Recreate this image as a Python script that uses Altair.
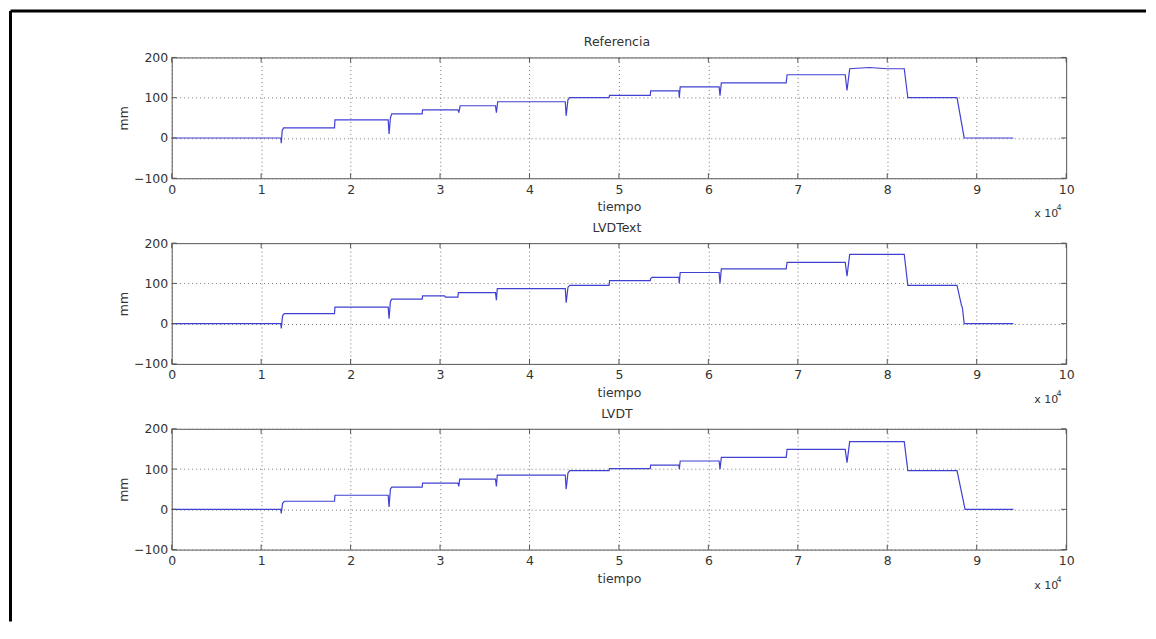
import altair as alt
import pandas as pd

# ---- data (tiempo, mm) ----
ref_t = [0, 12200, 12250, 12350, 12500, 18200, 18250, 24200, 24300, 24450, 24600,
         28000, 28050, 32000, 32100, 32250, 36200, 36300, 36450, 44000, 44100, 44300,
         44500, 48900, 48950, 53500, 53550, 56700, 56750, 56850, 61200, 61300, 61450,
         68700, 68800, 75300, 75500, 75800, 78000, 80000, 81900, 82300, 87800, 88600, 94100]
ref_v = [0, 0, -13, 18, 25, 25, 45, 45, 10, 50, 60,
         60, 70, 70, 63, 80, 80, 63, 90, 90, 55, 95,
         100, 100, 106, 106, 117, 117, 100, 127, 127, 105, 137,
         137, 157, 157, 118, 172, 175, 172, 172, 100, 100, 0, 0]

ext_t = [0, 12200, 12250, 12400, 12600, 18200, 18250, 24200, 24300, 24450, 24600,
         28000, 28050, 30500, 30600, 32000, 32050, 36200, 36300, 36400, 44000, 44100,
         44300, 44500, 48900, 48950, 53500, 53550, 53700, 56700, 56750, 56850, 61200,
         61300, 61450, 68700, 68800, 75300, 75500, 75800, 81900, 82300, 87800, 88300,
         88400, 88600, 94100]
ext_v = [0, 0, -12, 20, 25, 25, 41, 41, 12, 55, 61,
         61, 69, 69, 66, 66, 77, 77, 58, 87, 87, 52,
         90, 95, 95, 107, 107, 112, 115, 115, 100, 127, 127,
         100, 136, 136, 152, 152, 118, 172, 172, 95, 95, 45,
         40, 0, 0]

lvdt_t = [0, 12200, 12250, 12400, 12600, 18200, 18250, 24200, 24300, 24450, 24600,
          28000, 28050, 32000, 32100, 32200, 36200, 36300, 36400, 44000, 44100, 44300,
          44500, 48900, 48950, 53500, 53550, 56700, 56750, 56850, 61200, 61300, 61450,
          68700, 68800, 75300, 75500, 75800, 81900, 82300, 87800, 88700, 94100]
lvdt_v = [0, 0, -10, 15, 20, 20, 35, 35, 6, 50, 55,
          55, 65, 65, 57, 75, 75, 57, 85, 85, 50, 90,
          96, 96, 101, 101, 110, 110, 100, 120, 120, 100, 129,
          129, 149, 149, 116, 168, 168, 96, 96, 0, 0]

panel_titles = ["Referencia", "LVDText", "LVDT"]
x_ticks = [0, 10000, 20000, 30000, 40000, 50000, 60000, 70000, 80000, 90000, 100000]
y_ticks = [-100, 0, 100, 200]

W, H = 896, 121
FONT = "DejaVu Sans"
FS = 12.5
TXT = "#333333"
LINE = "#4040d2"
GRID = "#777777"

one = pd.DataFrame({"a": [0]})


def panel(title, t, v, first=False):
    df = pd.DataFrame({"t": t, "v": v, "i": list(range(len(t)))})
    xs = alt.Scale(domain=[0, 100000], nice=False, zero=False)
    ys = alt.Scale(domain=[-100, 200], nice=False)
    x = alt.X("t:Q", scale=xs,
              axis=alt.Axis(values=x_ticks, labelExpr="datum.value / 10000", title="tiempo",
                            grid=True, gridDash=[1, 3], gridColor=GRID, gridOpacity=1,
                            domain=False, ticks=False, labelPadding=5, titlePadding=5,
                            labelFlush=False, labelOverlap=False))
    y = alt.Y("v:Q", scale=ys,
              axis=alt.Axis(values=y_ticks, title="mm", grid=True, gridDash=[1, 3],
                            gridColor=GRID, gridOpacity=1, domain=False, ticks=False,
                            labelPadding=4, titlePadding=3, labelFlush=False,
                            labelOverlap=False))
    line = alt.Chart(df).mark_line(color=LINE, strokeWidth=1.2).encode(x=x, y=y, order="i:Q")

    xt = pd.DataFrame({"t": x_ticks})
    yt = pd.DataFrame({"v": y_ticks})
    tick_style = dict(color="#555555", strokeWidth=1)
    bx = alt.X("t:Q", scale=xs)
    by = alt.Y("v:Q", scale=ys)
    tb = alt.Chart(xt).mark_rule(**tick_style).encode(x=bx, y=alt.value(H), y2=alt.value(H - 5))
    tt = alt.Chart(xt).mark_rule(**tick_style).encode(x=bx, y=alt.value(0), y2=alt.value(5))
    tl = alt.Chart(yt).mark_rule(**tick_style).encode(y=by, x=alt.value(0), x2=alt.value(5))
    tr = alt.Chart(yt).mark_rule(**tick_style).encode(y=by, x=alt.value(W), x2=alt.value(W - 5))

    ttl = alt.Chart(one).mark_text(text=title, font=FONT, fontSize=FS, color=TXT,
                                   align="center", baseline="alphabetic").encode(
        x=alt.value(W / 2 - 2), y=alt.value(-11))
    exp1 = alt.Chart(one).mark_text(text="x 10", font=FONT, fontSize=11, color=TXT,
                                    align="center", baseline="middle").encode(
        x=alt.value(W - 20), y=alt.value(H + 36))
    exp2 = alt.Chart(one).mark_text(text="4", font=FONT, fontSize=8, color=TXT,
                                    align="center", baseline="middle").encode(
        x=alt.value(W - 7), y=alt.value(H + 30))

    layers = [line, tb, tt, tl, tr, ttl, exp1, exp2]
    if first:
        bl = alt.Chart(one).mark_rule(color="black", strokeWidth=3).encode(
            x=alt.value(-161.5), y=alt.value(-46.5), y2=alt.value(565))
        btop = alt.Chart(one).mark_rule(color="black", strokeWidth=3).encode(
            x=alt.value(-161.5), x2=alt.value(976), y=alt.value(-46.5))
        layers += [bl, btop]

    return alt.layer(*layers).properties(width=W, height=H)


charts = [panel(panel_titles[0], ref_t, ref_v, first=True),
          panel(panel_titles[1], ext_t, ext_v),
          panel(panel_titles[2], lvdt_t, lvdt_v)]

chart = alt.vconcat(*charts, spacing=65, bounds="flush").properties(
    padding=0, background="white"
).configure_view(stroke="#555555", strokeWidth=1).configure_axis(
    labelFont=FONT, titleFont=FONT, labelFontSize=FS, titleFontSize=FS,
    labelColor=TXT, titleColor=TXT, titleFontWeight="normal"
)

chart.save("out.html", embed_options={"renderer": "svg", "actions": False})
